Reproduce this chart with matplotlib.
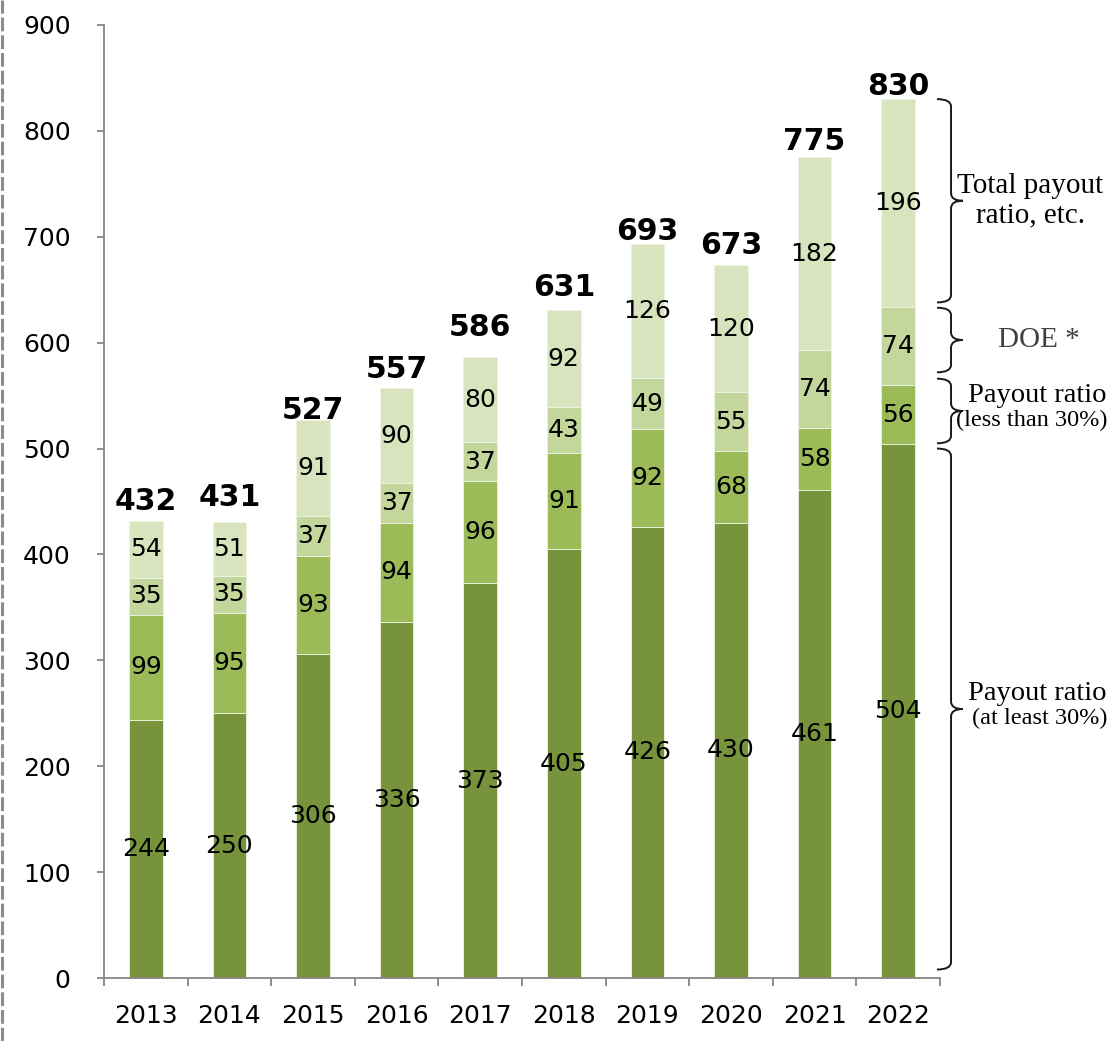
import matplotlib.pyplot as plt
import numpy as np
from matplotlib.path import Path
from matplotlib.patches import PathPatch
from matplotlib.lines import Line2D
import matplotlib.transforms as mtransforms

# anos e componentes do retorno
anos = ['2013', '2014', '2015', '2016', '2017', '2018', '2019', '2020', '2021', '2022']
payout_min = [244, 250, 306, 336, 373, 405, 426, 430, 461, 504]
payout_menos = [99, 95, 93, 94, 96, 91, 92, 68, 58, 56]
doe = [35, 35, 37, 37, 37, 43, 49, 55, 74, 74]
total_payout = [54, 51, 91, 90, 80, 92, 126, 120, 182, 196]
totais = [432, 431, 527, 557, 586, 631, 693, 673, 775, 830]

series = [payout_min, payout_menos, doe, total_payout]
cores = ['#77933C', '#9BBB59', '#C3D69B', '#D7E4BD']
legendas = ['Total payout\nratio, etc.', 'DOE *',
            'Payout ratio\n(less than 30%)', 'Payout ratio\n(at least 30%)']

fig = plt.figure(figsize=(11.11, 10.41), dpi=100)
ax = fig.add_axes([104 / 1111, 63 / 1041, 836 / 1111, 953 / 1041])

x = np.arange(len(anos))
base = np.zeros(len(anos))
for vals, cor in zip(series, cores):
    vals = np.array(vals)
    bars = ax.bar(x, vals, 0.4, bottom=base, color=cor, edgecolor='#EEF3E2', linewidth=0.6)
    ax.bar_label(bars, labels=[str(v) for v in vals], label_type='center', fontsize=18,
                 color='black', family='DejaVu Sans')
    base += vals

# totais em negrito acima das barras (deslocamento em pontos)
desloc = [3.6, 7.2, -3.6, 2.9, 10.8, 5.8, -1.4, 3.6, 0.7, -1.4]
for xi, t, d in zip(x, totais, desloc):
    ax.annotate(str(t), (xi, t), xytext=(0, d), textcoords='offset points',
                ha='center', va='bottom', fontsize=21.5, fontweight='bold')

ax.set_xlim(-0.5, 9.5)
ax.set_ylim(0, 900)
ax.set_yticks(range(0, 901, 100))
ax.set_xticks(x)
ax.set_xticklabels(anos)
ax.set_xticks(np.arange(-0.5, 10, 1), minor=True)

cinza = '#868686'
for lado in ['top', 'right']:
    ax.spines[lado].set_visible(False)
for lado in ['left', 'bottom']:
    ax.spines[lado].set_color(cinza)
    ax.spines[lado].set_linewidth(1.3)
ax.tick_params(axis='y', length=5, width=1.3, color=cinza, pad=19, labelsize=18)
ax.tick_params(axis='x', which='major', length=0, pad=19, labelsize=18)
ax.tick_params(axis='x', which='minor', length=6, width=1.3, color=cinza)

# chaves à direita da última barra
trans = mtransforms.blended_transform_factory(ax.transAxes, ax.transData)
x0, x1, x2 = 0.9964, 1.0132, 1.0275
r = 7


def chave(y_bot, y_top):
    ym = (y_bot + y_top) / 2
    verts = [(x0, y_top), (x1, y_top), (x1, y_top - r),
             (x1, ym + r),
             (x1, ym), (x2, ym), (x2, ym), (x1, ym), (x1, ym - r),
             (x1, y_bot + r),
             (x1, y_bot), (x0, y_bot)]
    codes = [Path.MOVETO, Path.CURVE3, Path.CURVE3,
             Path.LINETO,
             Path.CURVE3, Path.CURVE3, Path.MOVETO, Path.CURVE3, Path.CURVE3,
             Path.LINETO,
             Path.CURVE3, Path.CURVE3]
    ax.add_patch(PathPatch(Path(verts, codes), transform=trans, fill=False,
                           edgecolor='#1A1A1A', linewidth=1.4, clip_on=False))


cum = np.cumsum([0] + [s[-1] for s in series])
faixas = [(cum[0] + 8, cum[1] - 4), (cum[1] + 1, cum[2] + 6),
          (cum[2] + 12, cum[3] - 1), (cum[3] + 4, cum[4])]
for yb, yt in faixas:
    chave(yb, yt)


def px(v):
    # posição horizontal em pixels da figura -> fração do eixo
    return (v - 104) / 836


serif = 'Liberation Serif'
ax.text(px(1030), (faixas[3][0] + faixas[3][1]) / 2, legendas[0], transform=trans,
        ha='center', va='center', fontsize=21, family=serif, linespacing=1.15, clip_on=False)
ax.text(px(1039), (faixas[2][0] + faixas[2][1]) / 2, legendas[1], transform=trans,
        ha='center', va='center', fontsize=21, family=serif, color='#404040', clip_on=False)

for (yb, yt), txt in [(faixas[1], legendas[2]), (faixas[0], legendas[3])]:
    l1, l2 = txt.split('\n')
    ym = (yb + yt) / 2
    ax.text(px(968), ym + 3, l1, transform=trans, ha='left', va='bottom',
            fontsize=20.5, family=serif, clip_on=False)
    ax.text(px(1108), ym + 1, l2, transform=trans, ha='right', va='top',
            fontsize=17.5, family=serif, clip_on=False)

# linha tracejada na borda esquerda
fig.add_artist(Line2D([0.0022, 0.0022], [0, 1], transform=fig.transFigure,
                      color='#8C8C8C', linewidth=2.2, linestyle=(0, (4.5, 1.3))))

fig.savefig('out.png', dpi=100)
